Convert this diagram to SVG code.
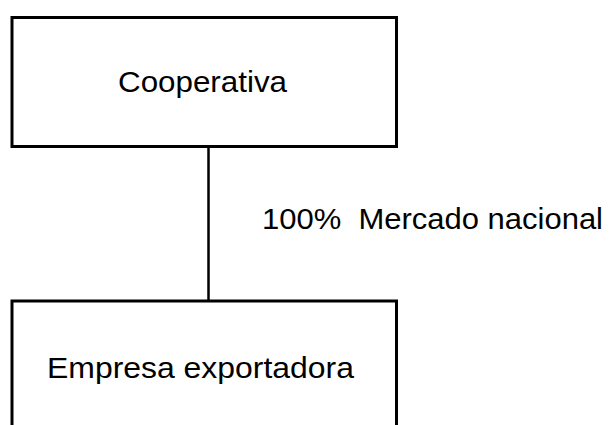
<svg xmlns="http://www.w3.org/2000/svg" width="614" height="425" viewBox="0 0 614 425">
<style>
.box{fill:#fff;stroke:#000;stroke-width:3}
.t{font-family:"Liberation Sans",Arial,sans-serif;font-size:29px;fill:#000}
.c{stroke:#000;stroke-width:2.5;fill:none}
</style>
<rect width="614" height="425" fill="#fff"/>
<g id="connectors">
<line class="c" x1="208.5" y1="146" x2="208.5" y2="301"/>
<text class="t" x="262" y="229" textLength="341" lengthAdjust="spacingAndGlyphs" xml:space="preserve">100%  Mercado nacional</text>
</g>
<g id="cooperativa">
<rect class="box" x="12" y="17.5" width="384.5" height="129"/>
<text class="t" x="118" y="92" textLength="169" lengthAdjust="spacingAndGlyphs">Cooperativa</text>
</g>
<g id="empresa">
<path class="box" d="M12,440 V301 H396.5 V440"/>
<text class="t" x="47" y="378" textLength="307" lengthAdjust="spacingAndGlyphs">Empresa exportadora</text>
</g>
</svg>
